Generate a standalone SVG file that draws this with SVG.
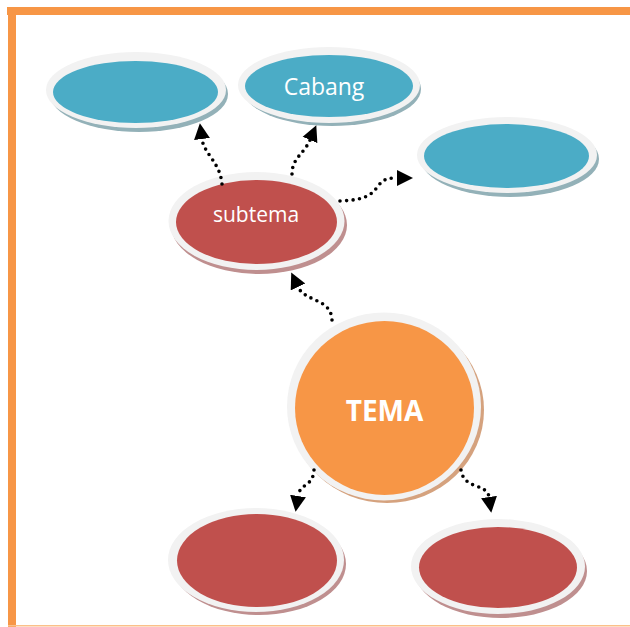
<svg xmlns="http://www.w3.org/2000/svg" width="630" height="627" viewBox="0 0 630 627">
<defs>
<style>
.ring{fill:#f2f2f2}
.blue{fill:#4bacc6}
.red{fill:#c0504d}
.orange{fill:#f79646}
.sh-blue{fill:#93b1b8}
.sh-red{fill:#bf8f8f}
.sh-orange{fill:#d5a27e}
.lbl{font-family:"Open Sans","Liberation Sans",sans-serif;fill:#ffffff;text-anchor:middle}
.con{fill:none;stroke:#000;stroke-width:3.6;stroke-linecap:round;stroke-dasharray:0 6.5;marker-end:url(#arr)}
</style>
<marker id="arr" markerUnits="userSpaceOnUse" markerWidth="18" markerHeight="18" refX="0" refY="9" orient="auto" viewBox="0 0 18 18">
<path d="M0,1 L16,9 L0,17 z" fill="#000"/>
</marker>
</defs>
<rect x="0" y="0" width="630" height="627" fill="#ffffff"/>
<rect x="7" y="7" width="623" height="8" fill="#f79646"/>
<rect x="8" y="7" width="8" height="620" fill="#f79646"/>
<rect x="8" y="625" width="622" height="1.5" fill="#fbc08a"/>

<g id="node-cabang1">
<ellipse class="sh-blue" cx="139" cy="94" rx="89" ry="38"/>
<ellipse class="ring" cx="136" cy="90" rx="90" ry="38"/>
<ellipse class="blue" cx="135.5" cy="92" rx="82.5" ry="31"/>
</g>
<g id="node-cabang2">
<ellipse class="sh-blue" cx="332" cy="89" rx="89" ry="37"/>
<ellipse class="ring" cx="329" cy="85" rx="91" ry="38"/>
<ellipse class="blue" cx="329" cy="86" rx="84" ry="31"/>
<text class="lbl" x="324" y="95" font-size="23">Cabang</text>
</g>
<g id="node-cabang3">
<ellipse class="sh-blue" cx="510" cy="159" rx="89" ry="38"/>
<ellipse class="ring" cx="507" cy="155" rx="90" ry="38"/>
<ellipse class="blue" cx="506.5" cy="156" rx="82.5" ry="32"/>
</g>
<g id="node-subtema">
<ellipse class="sh-red" cx="259" cy="225" rx="88" ry="49"/>
<ellipse class="ring" cx="256.5" cy="221" rx="88" ry="49"/>
<ellipse class="red" cx="256.5" cy="222" rx="80.5" ry="42"/>
<text class="lbl" x="256" y="222" font-size="21">subtema</text>
</g>
<g id="node-tema">
<ellipse class="sh-orange" cx="387" cy="410" rx="97" ry="93"/>
<ellipse class="ring" cx="384" cy="406.5" rx="97" ry="94"/>
<ellipse class="orange" cx="384.5" cy="408" rx="89.5" ry="87"/>
<text class="lbl" x="384.5" y="421" font-size="28" font-weight="bold">TEMA</text>
</g>
<g id="node-sub2">
<ellipse class="sh-red" cx="259" cy="564" rx="87" ry="51"/>
<ellipse class="ring" cx="256" cy="560" rx="88" ry="52"/>
<ellipse class="red" cx="257" cy="560.5" rx="80" ry="46.5"/>
</g>
<g id="node-sub3">
<ellipse class="sh-red" cx="501" cy="571" rx="86" ry="47"/>
<ellipse class="ring" cx="498" cy="566.5" rx="87" ry="47.5"/>
<ellipse class="red" cx="498" cy="567.5" rx="79" ry="40.5"/>
</g>

<g id="connectors">
<path class="con" d="M222,184 C220,162 204,154 202,139"/>
<path class="con" d="M292,174 C292,158 304,154 310,140"/>
<path class="con" d="M340,201 C365,200 372,195 378,186 C384,178 390,178 397,178"/>
<path class="con" d="M332,320 C331,298 305,302 298,287"/>
<path class="con" d="M314,470 C313,487 300,483 298,496"/>
<path class="con" d="M461,470 C464,490 487,483 489,497"/>
</g>
</svg>
